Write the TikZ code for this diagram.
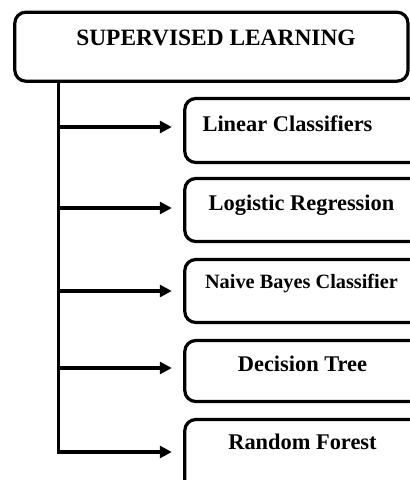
\documentclass[tikz,border=0pt]{standalone}
\usepackage{fontspec}
\setmainfont{Liberation Serif}
\usetikzlibrary{arrows.meta}
\begin{document}
\begin{tikzpicture}[x=1pt,y=-1pt,
  box/.style={draw, line width=3.2pt, rounded corners=11pt, inner sep=0pt, outer sep=0pt},
  lbl/.style={font=\bfseries\fontsize{22.4}{26}\selectfont, inner sep=0pt, anchor=base},
  arr/.style={line width=3.2pt, -{Triangle[length=12pt,width=12pt]}, shorten >=13pt}]
\useasboundingbox (0,0) rectangle (410,480);
\clip (0,0) rectangle (410,480);
% boxes
\node[box, minimum width=393.2pt, minimum height=69pt] (sl) at (211.4,46.7) {};
\node[box, minimum width=245.2pt, minimum height=64pt] (c1) at (307.4,130.5) {};
\node[box, minimum width=245.2pt, minimum height=63pt] (c2) at (307.4,210) {};
\node[box, minimum width=245.2pt, minimum height=63pt] (c3) at (307.4,291) {};
\node[box, minimum width=245.2pt, minimum height=61pt] (c4) at (307.4,371) {};
\node[box, minimum width=245.2pt, minimum height=80.5pt] (c5) at (307.4,459.75) {};
% labels
\node[lbl, font=\bfseries\fontsize{23.4}{27}\selectfont] (tsl) at (216,45) {SUPERVISED LEARNING};
\node[lbl] (t1) at (287.5,131) {Linear Classifiers};
\node[lbl] (t2) at (301.5,210) {Logistic Regression};
\node[lbl, font=\bfseries\fontsize{20.3}{24}\selectfont] (t3) at (301.5,288) {Naive Bayes Classifier};
\node[lbl] (t4) at (302.5,371) {Decision Tree};
\node[lbl] (t5) at (302.5,449) {Random Forest};
% connectors
\coordinate (k0) at (58.3,0);
\coordinate (b1) at (58.3,127);
\coordinate (b2) at (58.3,208);
\coordinate (b3) at (58.3,291);
\coordinate (b4) at (58.3,368);
\coordinate (b5) at (58.3,452);
\draw[arr] (sl.south -| k0) -- (b5) -- (b5 -| c5.west);
\draw[arr] (b1) -- (b1 -| c1.west);
\draw[arr] (b2) -- (b2 -| c2.west);
\draw[arr] (b3) -- (b3 -| c3.west);
\draw[arr] (b4) -- (b4 -| c4.west);
\end{tikzpicture}
\end{document}
